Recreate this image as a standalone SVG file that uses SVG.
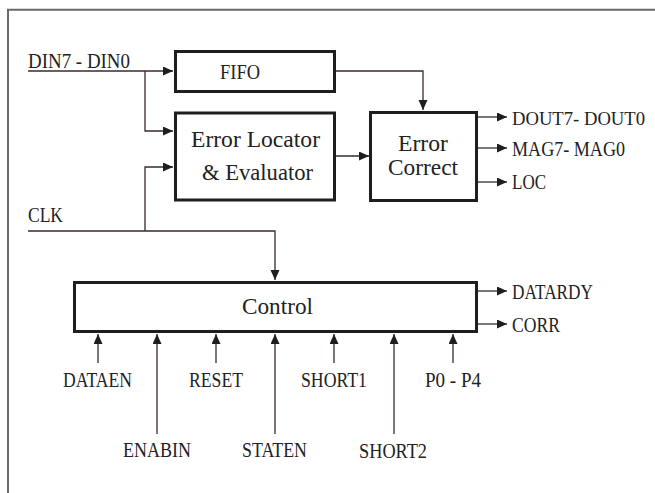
<svg xmlns="http://www.w3.org/2000/svg" width="655" height="493" viewBox="0 0 655 493">
  <defs>
    <marker id="arrow" markerUnits="userSpaceOnUse" markerWidth="12" markerHeight="10" refX="10" refY="4.5" orient="auto">
      <path d="M0,0 L10,4.5 L0,9 Z" fill="#1e1e1e"/>
    </marker>
  </defs>
  <style>
    .frame { fill: none; stroke: #6a6a6a; stroke-width: 2; }
    .box { fill: #ffffff; stroke: #1e1e1e; stroke-width: 3; }
    .wire { fill: none; stroke: #3a2a2c; stroke-width: 1.3; }
    .arw { marker-end: url(#arrow); }
    text { font-family: "Liberation Serif", "Times New Roman", serif; fill: #222222; }
    .lbl { font-size: 20.5px; }
    .big { font-size: 23px; }
  </style>

  <!-- outer frame -->
  <path class="frame" d="M8,493 V9.8 H655"/>

  <!-- connectors -->
  <g id="connectors">
    <path class="wire arw" d="M28,71 H173"/>
    <path class="wire arw" d="M145,71 V131 H173"/>
    <path class="wire arw" d="M28,231 H275 V280"/>
    <path class="wire arw" d="M145,231 V167 H173"/>
    <path class="wire arw" d="M336,71 H423 V110"/>
    <path class="wire arw" d="M336,156 H369"/>
    <path class="wire arw" d="M478,117 H507"/>
    <path class="wire arw" d="M478,148 H507"/>
    <path class="wire arw" d="M478,182 H507"/>
    <path class="wire arw" d="M478,291 H507"/>
    <path class="wire arw" d="M478,324 H507"/>
    <path class="wire arw" d="M98,363 V334"/>
    <path class="wire arw" d="M157,434 V334"/>
    <path class="wire arw" d="M216,363 V334"/>
    <path class="wire arw" d="M275,434 V334"/>
    <path class="wire arw" d="M334,363 V334"/>
    <path class="wire arw" d="M394,434 V334"/>
    <path class="wire arw" d="M453,363 V334"/>
  </g>

  <!-- blocks -->
  <g id="fifo">
    <rect class="box" x="175.5" y="51.5" width="159" height="40"/>
    <text class="lbl" x="220" y="79" textLength="40" lengthAdjust="spacingAndGlyphs">FIFO</text>
  </g>
  <g id="error-locator">
    <rect class="box" x="175.5" y="113" width="159" height="87"/>
    <text class="big" x="191" y="147" textLength="129" lengthAdjust="spacingAndGlyphs">Error Locator</text>
    <text class="big" x="202" y="180" textLength="111" lengthAdjust="spacingAndGlyphs">&amp; Evaluator</text>
  </g>
  <g id="error-correct">
    <rect class="box" x="370.5" y="112.5" width="106" height="88"/>
    <text class="big" x="398" y="151" textLength="50" lengthAdjust="spacingAndGlyphs">Error</text>
    <text class="big" x="388" y="175" textLength="70" lengthAdjust="spacingAndGlyphs">Correct</text>
  </g>
  <g id="control">
    <rect class="box" x="74.5" y="282.5" width="402" height="49"/>
    <text class="big" x="242" y="314" textLength="71" lengthAdjust="spacingAndGlyphs" style="font-size:24px">Control</text>
  </g>

  <!-- signal labels -->
  <g id="inputs-left">
    <text class="lbl" x="28" y="68" textLength="102" lengthAdjust="spacingAndGlyphs">DIN7 - DIN0</text>
    <text class="lbl" x="28" y="222" textLength="35" lengthAdjust="spacingAndGlyphs">CLK</text>
  </g>
  <g id="outputs">
    <text class="lbl" x="512" y="125" textLength="133" lengthAdjust="spacingAndGlyphs" style="font-size:19px">DOUT7- DOUT0</text>
    <text class="lbl" x="512" y="156" textLength="113" lengthAdjust="spacingAndGlyphs">MAG7- MAG0</text>
    <text class="lbl" x="512" y="189" textLength="34" lengthAdjust="spacingAndGlyphs">LOC</text>
    <text class="lbl" x="512" y="299" textLength="81" lengthAdjust="spacingAndGlyphs">DATARDY</text>
    <text class="lbl" x="512" y="332" textLength="48" lengthAdjust="spacingAndGlyphs">CORR</text>
  </g>
  <g id="inputs-bottom">
    <text class="lbl" x="63" y="387" textLength="69" lengthAdjust="spacingAndGlyphs">DATAEN</text>
    <text class="lbl" x="189" y="387" textLength="54" lengthAdjust="spacingAndGlyphs">RESET</text>
    <text class="lbl" x="301" y="387" textLength="66" lengthAdjust="spacingAndGlyphs">SHORT1</text>
    <text class="lbl" x="425" y="387" textLength="56" lengthAdjust="spacingAndGlyphs">P0 - P4</text>
    <text class="lbl" x="123" y="457" textLength="68" lengthAdjust="spacingAndGlyphs">ENABIN</text>
    <text class="lbl" x="242" y="457" textLength="65" lengthAdjust="spacingAndGlyphs">STATEN</text>
    <text class="lbl" x="359" y="458" textLength="68" lengthAdjust="spacingAndGlyphs">SHORT2</text>
  </g>
</svg>
